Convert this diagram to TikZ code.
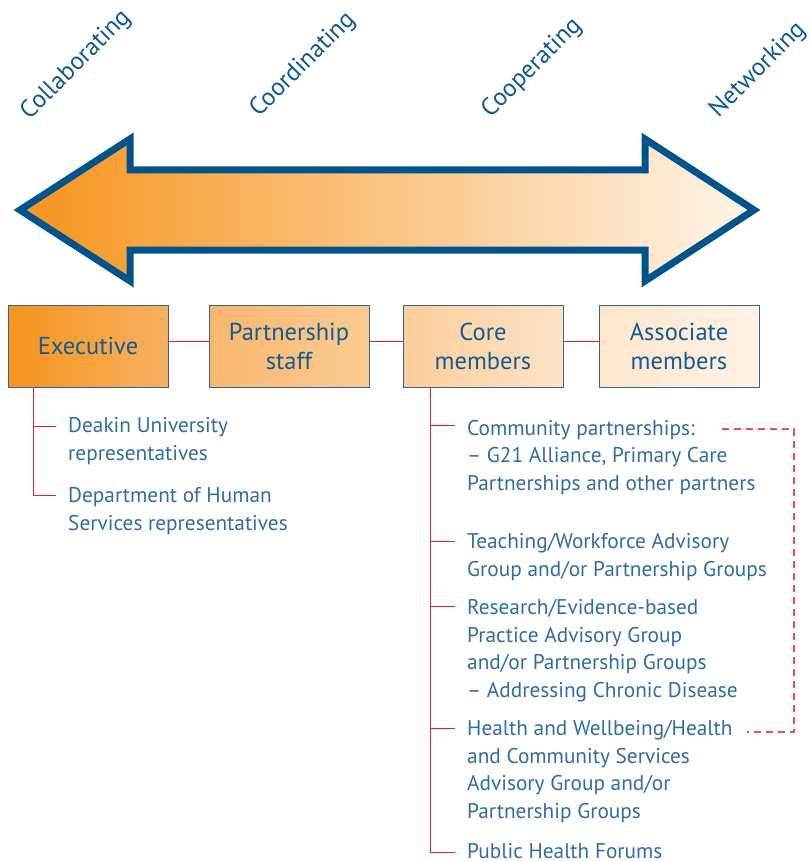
\documentclass[tikz,border=0pt]{standalone}
\usepackage{fontspec}
\setmainfont{PT Sans}
\begin{document}
\begin{tikzpicture}[x=1pt,y=-1pt,
  every node/.style={font=\fontsize{21.3}{27.5}\selectfont},
  stage/.style={text=stageblue, rotate=45, font=\fontsize{25}{30}\selectfont},
  level/.style={draw=boxblue, line width=1pt, minimum width=160pt, minimum height=82pt,
    align=center, text=boxtext, font=\fontsize{24.5}{29}\selectfont, inner sep=0pt, text depth=-4pt},
  item/.style={text=itemblue, align=left, anchor=base west, inner xsep=12pt, inner ysep=0pt},
  link/.style={draw=linkred, line width=1pt},
  group/.style={draw=dashred, line width=1.2pt, dash pattern=on 7pt off 5pt}
]
\definecolor{stageblue}{HTML}{0B5A94}
\definecolor{arrowblue}{HTML}{00548B}
\definecolor{boxblue}{HTML}{2F6797}
\definecolor{boxtext}{HTML}{135B90}
\definecolor{itemblue}{HTML}{2E6DA4}
\definecolor{linkred}{HTML}{E8202A}
\definecolor{dashred}{HTML}{EE4B50}
\definecolor{o1}{HTML}{F7941D}
\definecolor{o2}{HTML}{F8B162}
\definecolor{o3}{HTML}{F8B771}
\definecolor{o4}{HTML}{FBCB92}
\definecolor{o5}{HTML}{FBCE9A}
\definecolor{o6}{HTML}{FDE3C6}
\definecolor{o7}{HTML}{FDE6CC}
\definecolor{o8}{HTML}{FEF3E6}
\definecolor{tipend}{HTML}{FEF5EA}

\useasboundingbox (0,0) rectangle (810,861);

% stage labels along the top
\node[stage] (collab) at (76,65) {Collaborating};
\node[stage] (coord) at (303,65) {Coordinating};
\node[stage] (coop) at (532,68) {Cooperating};
\node[stage] (net) at (758,70) {Networking};

% double-headed continuum arrow
\draw[draw=arrowblue, line width=7pt, miter limit=10, left color=o1, right color=tipend]
  (20,210) -- (130,139) -- (130,170) -- (645,170) -- (645,139) -- (754,210)
  -- (645,281) -- (645,250) -- (130,250) -- (130,281) -- cycle;

% levels of membership
\node[level, left color=o1, right color=o2] (exec) at (88,346) {Executive};
\node[level, left color=o3, right color=o4] (staff) at (289,346) {Partnership\\staff};
\node[level, left color=o5, right color=o6] (core) at (483,346) {Core\\members};
\node[level, left color=o7, right color=o8] (assoc) at (679,346) {Associate\\members};

\draw[link] ([yshift=5pt]exec.east) -- ([yshift=5pt]staff.west);
\draw[link] ([yshift=5pt]staff.east) -- ([yshift=5pt]core.west);
\draw[link] ([yshift=5pt]core.east) -- ([yshift=5pt]assoc.west);

% executive members (anchored at the baseline of the last line)
\node[item] (deakin) at (56,460) {Deakin University\\representatives};
\node[item] (dhs) at (56,530) {Department of Human\\Services representatives};
\coordinate (e1) at (33,426);
\coordinate (e2) at (33,495);
\draw[link] (exec.south -| e1) -- (e2) -- (e2 -| dhs.west);
\draw[link] (e1) -- (e1 -| deakin.west);

% core member groups
\node[item] (comm) at (455,490) {Community partnerships:\\– G21 Alliance, Primary Care\\Partnerships and other partners};
\node[item] (teach) at (455,576) {Teaching/Workforce Advisory\\Group and/or Partnership Groups};
\node[item] (research) at (455,697) {Research/Evidence-based\\Practice Advisory Group\\and/or Partnership Groups\\– Addressing Chronic Disease};
\node[item] (health) at (455,818) {Health and Wellbeing/Health\\and Community Services\\Advisory Group and/or\\Partnership Groups};
\node[item] (pub) at (455,858) {Public Health Forums};
\coordinate (c1) at (430,425);
\coordinate (c2) at (430,541);
\coordinate (c3) at (430,606);
\coordinate (c4) at (430,728);
\coordinate (c5) at (430,852);
\draw[link] (core.south -| c1) -- (c5) -- (c5 -| pub.west);
\draw[link] (c1) -- (c1 -| comm.west);
\draw[link] (c2) -- (c2 -| teach.west);
\draw[link] (c3) -- (c3 -| research.west);
\draw[link] (c4) -- (c4 -| health.west);

% dashed bracket grouping the partnership groups
\coordinate (d1) at (722,429);
\coordinate (d2) at (794,429);
\coordinate (d3) at (794,732);
\coordinate (d4) at (747,732);
\draw[group] (d1) -- (d2) -- (d3) -- (d4);
\end{tikzpicture}
\end{document}
